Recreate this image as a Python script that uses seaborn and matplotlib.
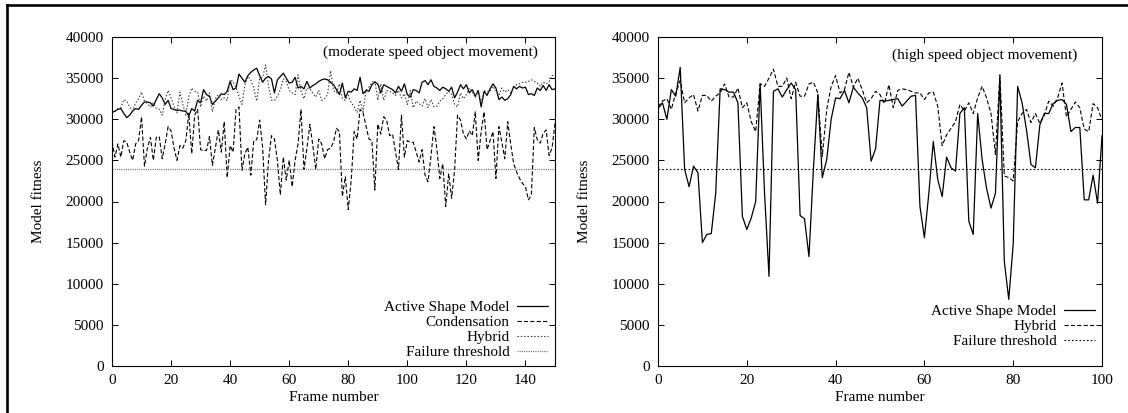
import numpy as np
import pandas as pd
import matplotlib
matplotlib.use("Agg")
import matplotlib.pyplot as plt
from matplotlib.lines import Line2D
import seaborn as sns

# ---- moderate speed sequence (frames 0..150) ----
asm_moderate = [
    30800, 31000, 31200, 31300, 30700, 30200, 30500, 31000, 31300, 31200,
    31700, 32100, 32100, 32000, 31600, 32400, 33100, 32600, 31800, 32300,
    31300, 31200, 31100, 31100, 31000, 31000, 30400, 31300, 31000, 32300,
    32000, 33600, 33000, 32800, 31800, 32200, 32600, 33100, 33000, 33400,
    34600, 33600, 33800, 35500, 35000, 34500, 35300, 35700, 36000, 36200,
    35300, 34500, 35000, 35200, 34900, 33200, 34800, 35200, 35600, 35000,
    34400, 34500, 35100, 33800, 34000, 33700, 34600, 33800, 34100, 34300,
    34600, 34800, 34900, 34800, 34500, 34200, 33600, 33000, 34400, 32600,
    33400, 33300, 33700, 33500, 35100, 33100, 33500, 33400, 34200, 34500,
    34300, 33200, 34200, 34000, 33800, 33600, 33200, 34000, 33400, 34300,
    33000, 32700, 33600, 33500, 33200, 34500, 34700, 34200, 34800, 34000,
    33800, 33500, 33900, 33700, 33400, 33900, 32600, 33300, 34200, 33700,
    34200, 33200, 33600, 32800, 33500, 31500, 33400, 32900, 33700, 34300,
    33800, 32400, 32700, 32300, 32500, 33000, 34000, 33700, 34000, 33800,
    33900, 33000, 33100, 32900, 33800, 33500, 34100, 33500, 34200, 33600,
    33700,
]
condensation_moderate = [
    27300, 25400, 27000, 25400, 27400, 27200, 26000, 25000, 27000, 27400,
    30300, 24300, 26500, 27800, 25000, 27800, 27900, 25200, 27000, 29100,
    28600, 26500, 25000, 26800, 26500, 27400, 30700, 25800, 30500, 31200,
    26300, 26200, 26200, 27900, 24400, 26500, 28700, 26000, 29700, 22900,
    26800, 26000, 31200, 31500, 23800, 25800, 26600, 23200, 27400, 27500,
    29900, 26600, 19600, 25000, 28000, 27600, 25000, 20800, 25400, 22600,
    25000, 21800, 25000, 27000, 31200, 23900, 26500, 29400, 26800, 23900,
    27600, 27000, 25200, 26300, 26500, 27200, 28900, 28500, 20600, 23000,
    19000, 22600, 28500, 27600, 31200, 30800, 29200, 27600, 27400, 21400,
    29400, 28200, 30300, 29900, 28000, 28200, 26000, 23900, 30500, 25400,
    27400, 27200, 27200, 26000, 24800, 26300, 23200, 22400, 25500, 29100,
    26400, 22800, 24600, 19400, 23400, 20400, 23800, 30500, 29900, 28200,
    27600, 28600, 28000, 30900, 25000, 28500, 30900, 26300, 27400, 28500,
    22800, 29100, 27200, 25200, 29700, 27000, 24600, 23600, 22800, 22200,
    21800, 20200, 20800, 29000, 27500, 27100, 28300, 28700, 25600, 26500,
    29500,
]
hybrid_moderate = [
    31000, 30900, 31300, 31400, 32400, 32200, 31500, 31000, 32000, 32500,
    33300, 32200, 31900, 31500, 32000, 31300, 31200, 30500, 32400, 33500,
    32600, 31500, 30800, 33300, 31800, 30500, 32700, 33800, 33400, 33300,
    31500, 32800, 32200, 33200, 30900, 32500, 33000, 32400, 32600, 32300,
    34800, 34600, 33800, 32800, 31800, 34200, 35200, 34800, 33800, 32200,
    35000, 35100, 36600, 34000, 32300, 32300, 32800, 33600, 34900, 34600,
    33500, 33200, 33000, 35400, 33400, 32500, 33800, 33700, 33200, 32700,
    33500, 32300, 32500, 33000, 35900, 33500, 33200, 34300, 32500, 32300,
    32900, 32000, 31500, 30800, 32300, 30900, 33500, 33900, 34500, 34700,
    32300, 34300, 32300, 33500, 33400, 33200, 32900, 33500, 32600, 33100,
    31800, 33500, 31400, 32200, 31900, 31600, 32500, 31400, 32400, 31500,
    31600, 32200, 32500, 33000, 33400, 33000, 31800, 31500, 33200, 32500,
    33000, 33800, 33400, 32600, 33500, 32000, 33500, 33300, 33400, 34000,
    33500, 32900, 33800, 33300, 33600, 33200, 33800, 34200, 34300, 34500,
    34500, 34600, 34800, 34600, 34400, 34000, 34500, 34300, 34600, 35300,
    35500,
]

# ---- high speed sequence (frames 0..100) ----
asm_high = [
    31300, 32000, 30000, 33600, 32800, 36300, 23900, 21800, 24300, 23500,
    15000, 16000, 16100, 21000, 33700, 33600, 33300, 33300, 32000, 18200,
    16600, 18000, 20000, 34300, 21000, 10900, 33400, 33700, 32700, 33600,
    34400, 33600, 18300, 17900, 13300, 23900, 33000, 22900, 25100, 30000,
    32600, 32500, 33500, 32000, 33900, 33200, 32600, 31400, 24900, 26400,
    32300, 32200, 32300, 32400, 32500, 31600, 32200, 32800, 32900, 19400,
    15600, 21000, 27300, 22700, 20600, 25400, 24100, 23700, 30700, 31400,
    17600, 16000, 30700, 25100, 21600, 19200, 21000, 35100, 12700, 8100,
    14800, 34000, 32000, 28700, 24500, 24100, 29300, 30700, 30700, 31900,
    32300, 32400, 31800, 28500, 29000, 29000, 20200, 20200, 23200, 19800,
    28000,
]
hybrid_high = [
    31500, 32200, 32500, 31200, 33200, 34700, 32000, 32600, 33000, 31000,
    32900, 32900, 32200, 32800, 33200, 34300, 32700, 32700, 33800, 31400,
    32000, 29700, 28500, 34300, 34000, 35000, 36100, 34000, 34000, 35000,
    32500, 34500, 32800, 32800, 34300, 34500, 33200, 25500, 31200, 34000,
    35300, 33200, 33600, 35700, 33900, 35000, 33600, 32000, 32500, 33400,
    33000, 31900, 34200, 31400, 33500, 33700, 33600, 33400, 33200, 33200,
    32400, 33200, 33300, 31600, 26800, 28100, 28900, 29700, 31800, 31000,
    32000, 30700, 32600, 34000, 32600, 30700, 25700, 35400, 23100, 22900,
    22500, 29700, 30700, 31200, 29600, 30700, 29500, 30500, 32200, 31600,
    32600, 34400, 30300, 31200, 32100, 31400, 28800, 28500, 31900, 31400,
    29900,
]

failure_threshold = 24000
y_ticks = [0, 5000, 10000, 15000, 20000, 25000, 30000, 35000, 40000]
x_ticks_moderate = [0, 20, 40, 60, 80, 100, 120, 140]
x_ticks_high = [0, 20, 40, 60, 80, 100]

moderate = pd.DataFrame({
    "frame": np.arange(len(asm_moderate)),
    "asm": asm_moderate,
    "condensation": condensation_moderate,
    "hybrid": hybrid_moderate,
})
high = pd.DataFrame({
    "frame": np.arange(len(asm_high)),
    "asm": asm_high,
    "hybrid": hybrid_high,
})

sns.set_style("ticks")
plt.rcParams.update({
    "font.family": ["Liberation Serif", "DejaVu Serif"],
    "font.size": 11,
    "text.color": "black",
    "axes.labelcolor": "black",
    "axes.edgecolor": "black",
    "axes.linewidth": 0.8,
    "xtick.color": "black",
    "ytick.color": "black",
    "xtick.direction": "in",
    "ytick.direction": "in",
    "xtick.top": True,
    "ytick.right": True,
    "xtick.major.size": 4.5,
    "ytick.major.size": 4.5,
    "xtick.major.width": 0.7,
    "ytick.major.width": 0.7,
    "xtick.major.pad": 6,
    "ytick.major.pad": 6,
    "xtick.labelsize": 11,
    "ytick.labelsize": 11,
    "axes.labelsize": 11,
    "lines.scale_dashes": False,
})

W, H = 1128, 413
fig = plt.figure(figsize=(W / 100, H / 100), dpi=100)
fig.patch.set_facecolor("white")


def px_axes(x0, x1, y_top, y_bottom):
    return fig.add_axes([x0 / W, 1 - y_bottom / H, (x1 - x0) / W, (y_bottom - y_top) / H])


ax1 = px_axes(112, 555, 37, 366)
ax2 = px_axes(658, 1102, 37, 366)

solid = dict(color="black", lw=0.9, linestyle="-")
dashed = dict(color="black", lw=0.8, linestyle=(0, (3.0, 1.6)))
dotted = dict(color="0.2", lw=0.8, linestyle=(0, (1.0, 1.4)))

# left panel
sns.lineplot(data=moderate, x="frame", y="asm", ax=ax1, label="Active Shape Model", **solid)
sns.lineplot(data=moderate, x="frame", y="condensation", ax=ax1, label="Condensation", **dashed)
sns.lineplot(data=moderate, x="frame", y="hybrid", ax=ax1, label="Hybrid", **dotted)
ax1.axhline(failure_threshold, color="0.45", lw=0.9, linestyle=(0, (0.8, 0.8)),
            label="Failure threshold")

# right panel
sns.lineplot(data=high, x="frame", y="asm", ax=ax2, label="Active Shape Model", **solid)
sns.lineplot(data=high, x="frame", y="hybrid", ax=ax2, label="Hybrid", **dashed)
ax2.axhline(failure_threshold, color="black", lw=0.8, linestyle=(0, (1.2, 1.5)),
            label="Failure threshold")

for ax, xt, xmax in ((ax1, x_ticks_moderate, 150), (ax2, x_ticks_high, 100)):
    ax.set_xlim(0, xmax)
    ax.set_ylim(0, 40000)
    ax.set_xticks(xt)
    ax.set_yticks(y_ticks)
    ax.set_xlabel("Frame number")
    ax.set_ylabel("Model fitness")
    ax.yaxis.set_label_coords(-0.152, 0.5)
    ax.xaxis.set_label_coords(0.5, -0.075)
    for s in ax.spines.values():
        s.set_visible(True)
        s.set_color("black")
        s.set_linewidth(0.8)

ax1.text(0.9616, 0.954, "(moderate speed object movement)", transform=ax1.transAxes,
         ha="right", va="center")
ax2.text(0.944, 0.945, "(high speed object movement)", transform=ax2.transAxes,
         ha="right", va="center")

leg_kw = dict(frameon=False, markerfirst=False, loc="lower right", borderaxespad=0,
              borderpad=0, handlelength=2.0, handletextpad=0.5, labelspacing=0.08)
ax1.legend(bbox_to_anchor=(0.984, 0.021), **leg_kw)
ax2.legend(bbox_to_anchor=(0.984, 0.055), **leg_kw)
for leg in (ax1.get_legend(), ax2.get_legend()):
    for t in leg.get_texts():
        t.set_ha("right")

# page frame (left and top rules)
fig.add_artist(Line2D([7 / W, 7 / W], [0, 1 - 5 / H], transform=fig.transFigure,
                      color="black", lw=1.9, solid_capstyle="projecting"))
fig.add_artist(Line2D([7 / W, 1], [1 - 5 / H, 1 - 5 / H], transform=fig.transFigure,
                      color="black", lw=1.9, solid_capstyle="projecting"))

fig.savefig("out.png", dpi=100, facecolor="white")
